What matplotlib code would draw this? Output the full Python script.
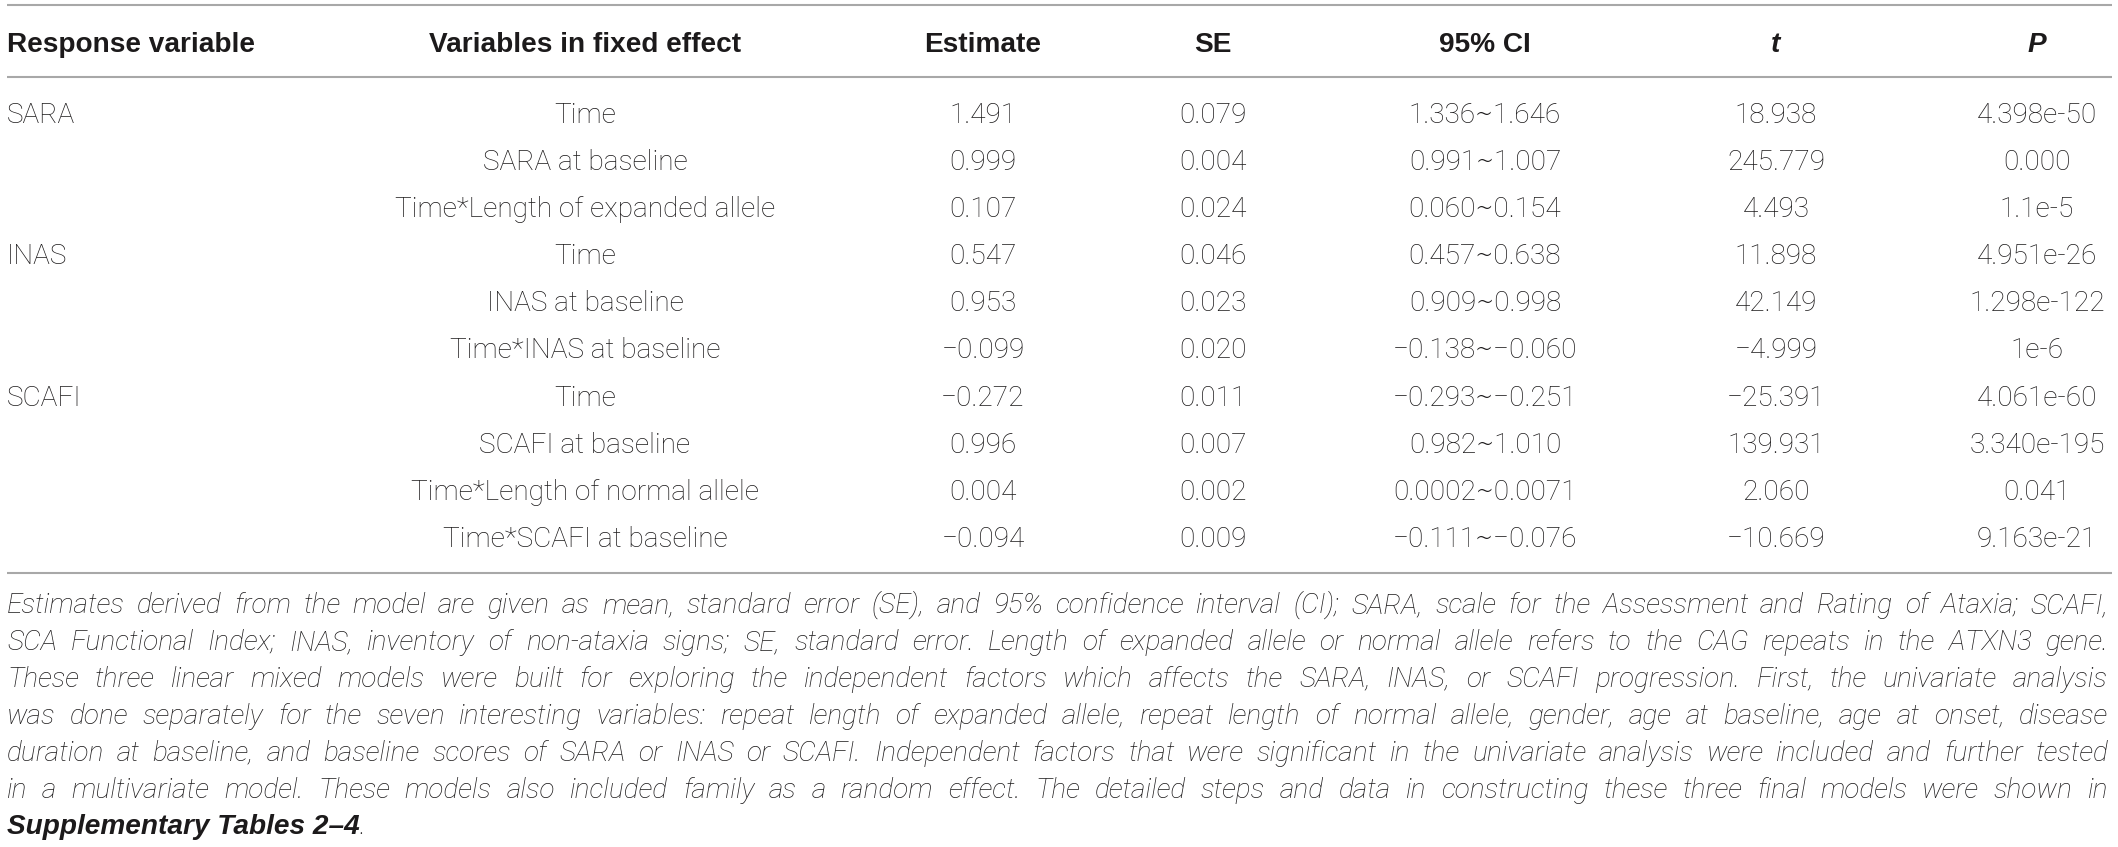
import matplotlib
matplotlib.use('Agg')
import matplotlib.pyplot as plt
from matplotlib import font_manager as fm

# ---------------- data ----------------
headers = ["Response variable", "Variables in fixed effect", "Estimate", "SE", "95% CI", "t", "P"]
response = ["SARA", "", "", "INAS", "", "", "SCAFI", "", "", ""]
variables = ["Time", "SARA at baseline", "Time*Length of expanded allele",
             "Time", "INAS at baseline", "Time*INAS at baseline",
             "Time", "SCAFI at baseline", "Time*Length of normal allele", "Time*SCAFI at baseline"]
estimate = ["1.491", "0.999", "0.107", "0.547", "0.953", "\u22120.099",
            "\u22120.272", "0.996", "0.004", "\u22120.094"]
se = ["0.079", "0.004", "0.024", "0.046", "0.023", "0.020", "0.011", "0.007", "0.002", "0.009"]
ci = ["1.336\u223c1.646", "0.991\u223c1.007", "0.060\u223c0.154", "0.457\u223c0.638",
      "0.909\u223c0.998", "\u22120.138\u223c\u22120.060", "\u22120.293\u223c\u22120.251",
      "0.982\u223c1.010", "0.0002\u223c0.0071", "\u22120.111\u223c\u22120.076"]
tval = ["18.938", "245.779", "4.493", "11.898", "42.149", "\u22124.999",
        "\u221225.391", "139.931", "2.060", "\u221210.669"]
pval = ["4.398e-50", "0.000", "1.1e-5", "4.951e-26", "1.298e-122", "1e-6",
        "4.061e-60", "3.340e-195", "0.041", "9.163e-21"]
footnote = [
    "Estimates derived from the model are given as mean, standard error (SE), and 95% confidence interval (CI); SARA, scale for the Assessment and Rating of Ataxia; SCAFI,",
    "SCA Functional Index; INAS, inventory of non-ataxia signs; SE, standard error. Length of expanded allele or normal allele refers to the CAG repeats in the ATXN3 gene.",
    "These three linear mixed models were built for exploring the independent factors which affects the SARA, INAS, or SCAFI progression. First, the univariate analysis",
    "was done separately for the seven interesting variables: repeat length of expanded allele, repeat length of normal allele, gender, age at baseline, age at onset, disease",
    "duration at baseline, and baseline scores of SARA or INAS or SCAFI. Independent factors that were significant in the univariate analysis were included and further tested",
    "in a multivariate model. These models also included family as a random effect. The detailed steps and data in constructing these three final models were shown in",
]
footnote_last_bold = "Supplementary Tables 2\u20134"
footnote_last_tail = "."

# ---------------- fonts ----------------
BOLD_FAM = ['Liberation Sans', 'DejaVu Sans']
LIGHT_FAM = ['Liberation Sans', 'DejaVu Sans']
LIGHT_W = 'normal'
for cand in ['Roboto', 'Lato', 'Open Sans', 'Inter', 'Noto Sans']:
    ws = [f.weight for f in fm.fontManager.ttflist if f.name == cand]
    ws = [w if isinstance(w, int) else {'light': 300, 'thin': 100, 'extra-light': 200,
                                         'ultralight': 200}.get(str(w), 400) for w in ws]
    if any(w <= 300 for w in ws):
        LIGHT_FAM = [cand, 'Liberation Sans', 'DejaVu Sans']
        LIGHT_W = 'light'
        break

# ---------------- layout ----------------
W, H = 2118, 847
fig = plt.figure(figsize=(W / 100, H / 100), dpi=100)
ax = fig.add_axes([0, 0, 1, 1])
ax.set_xlim(0, W)
ax.set_ylim(H, 0)
ax.axis('off')

FS = 20.2
TC = '#1c1a1b'
LC = '#a8a8a8'

LEFT, RIGHT = 7, 2112
col_x = [LEFT, 585, 983, 1213, 1485, 1776, 2037]
col_ha = ['left', 'center', 'center', 'center', 'center', 'center', 'center']

# rules
ax.hlines([5, 77, 573], LEFT, RIGHT, colors=LC, linewidth=1.5)

# header
hdr_base = 52
for j, h in enumerate(headers):
    style = 'italic' if h in ('t', 'P') else 'normal'
    ax.text(col_x[j], hdr_base, h, ha=col_ha[j], va='baseline', fontsize=FS,
            fontweight='bold', fontstyle=style, family=BOLD_FAM, color=TC)

# body rows
row0 = 123
step = 47.1
cols = [response, variables, estimate, se, ci, tval, pval]
for i in range(len(variables)):
    y = row0 + i * step
    for j, col in enumerate(cols):
        if col[i]:
            ax.text(col_x[j], y, col[i], ha=col_ha[j], va='baseline', fontsize=FS,
                    family=LIGHT_FAM, fontweight=LIGHT_W, color=TC)

# footnote (justified)
renderer = fig.canvas.get_renderer()


def tw(s, fam, **kw):
    t = ax.text(0, 0, s, fontsize=FS, family=fam, **kw)
    w = t.get_window_extent(renderer).width
    t.remove()
    return w


fn_base = 613
fn_step = 36.9
for k, line in enumerate(footnote):
    y = fn_base + k * fn_step
    words = line.split(' ')
    widths = [tw(w, LIGHT_FAM, fontstyle='italic', fontweight=LIGHT_W) for w in words]
    gap = (RIGHT - 4 - LEFT - sum(widths)) / (len(words) - 1)
    x = LEFT
    for w, wd in zip(words, widths):
        ax.text(x, y, w, ha='left', va='baseline', fontsize=FS, family=LIGHT_FAM,
                fontstyle='italic', fontweight=LIGHT_W, color=TC)
        x += wd + gap

y = fn_base + len(footnote) * fn_step
ax.text(LEFT, y, footnote_last_bold, ha='left', va='baseline', fontsize=FS, family=BOLD_FAM,
        fontstyle='italic', fontweight='bold', color=TC)
bw = tw(footnote_last_bold, BOLD_FAM, fontstyle='italic', fontweight='bold')
ax.text(LEFT + bw, y, footnote_last_tail, ha='left', va='baseline', fontsize=FS,
        family=LIGHT_FAM, fontstyle='italic', fontweight=LIGHT_W, color=TC)

fig.savefig('out.png', dpi=100)
